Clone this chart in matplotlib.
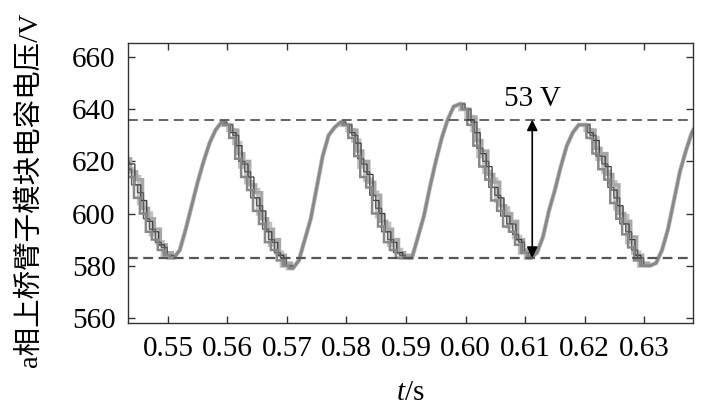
import numpy as np
import matplotlib
matplotlib.use("Agg")
import matplotlib.pyplot as plt

plt.rcParams['font.family'] = ['Liberation Serif', 'Noto Sans CJK SC', 'DejaVu Sans']
plt.rcParams['mathtext.fontset'] = 'custom'
plt.rcParams['mathtext.it'] = 'Liberation Serif:italic'
plt.rcParams['mathtext.rm'] = 'Liberation Serif'
plt.rcParams['lines.scale_dashes'] = False

# ---- data ----
t = np.linspace(0.543, 0.639, 97)

module_a = [620, 619, 611, 605, 597, 593, 588, 584, 583,
            586, 594, 603, 612, 620, 627, 632, 635,
            634, 631, 626, 619, 614, 606, 601, 593, 589, 584, 580, 579,
            582, 590, 598, 610, 622, 630, 633, 635,
            634, 631, 627, 619, 615, 605, 600, 593, 589, 585, 583, 583,
            591, 599, 610, 620, 629, 636, 641, 642,
            640, 636, 631, 623, 618, 610, 606, 599, 596, 590, 585, 583,
            585, 591, 601, 609, 618, 626, 631, 634,
            634, 631, 628, 622, 618, 609, 603, 596, 590, 584, 580, 580,
            581, 586, 594, 605, 616, 624, 631, 635]

module_b = [615, 614, 606, 600, 593, 590, 586, 584, 583,
            586, 594, 603, 612, 620, 627, 632, 635,
            634, 629, 621, 614, 609, 601, 596, 589, 586, 582, 580, 579,
            582, 590, 598, 610, 622, 630, 633, 635,
            634, 629, 622, 614, 610, 600, 595, 589, 586, 583, 583, 583,
            591, 599, 610, 620, 629, 636, 641, 642,
            640, 634, 626, 618, 613, 605, 601, 595, 593, 588, 585, 583,
            585, 591, 601, 609, 618, 626, 631, 634,
            634, 629, 623, 617, 613, 604, 598, 592, 587, 582, 580, 580,
            581, 586, 594, 605, 616, 624, 631, 635]

module_c = [621, 616, 613, 602, 598, 594, 588, 585, 583,
            586, 594, 603, 612, 620, 627, 632, 635,
            634, 632, 623, 620, 611, 608, 598, 594, 590, 584, 581, 579,
            582, 590, 598, 610, 622, 630, 633, 635,
            634, 632, 624, 620, 612, 607, 597, 594, 590, 585, 584, 583,
            591, 599, 610, 620, 629, 636, 641, 642,
            640, 637, 628, 624, 615, 612, 603, 600, 597, 590, 586, 583,
            585, 591, 601, 609, 618, 626, 631, 634,
            634, 632, 625, 623, 615, 611, 600, 597, 591, 584, 581, 580,
            581, 586, 594, 605, 616, 624, 631, 635]

module_d = [617, 611, 608, 598, 594, 589, 587, 584, 583,
            586, 594, 603, 612, 620, 627, 632, 635,
            634, 630, 620, 616, 606, 603, 594, 590, 585, 583, 580, 579,
            582, 590, 598, 610, 622, 630, 633, 635,
            634, 630, 621, 616, 607, 602, 593, 590, 585, 584, 583, 583,
            591, 599, 610, 620, 629, 636, 641, 642,
            640, 635, 625, 620, 610, 607, 599, 596, 592, 589, 585, 583,
            585, 591, 601, 609, 618, 626, 631, 634,
            634, 630, 622, 619, 610, 606, 596, 593, 586, 583, 580, 580,
            581, 586, 594, 605, 616, 624, 631, 635]

module_e = [619, 617, 614, 604, 600, 592, 589, 584, 583,
            586, 594, 603, 612, 620, 627, 632, 635,
            634, 632, 627, 618, 612, 609, 600, 596, 588, 585, 580, 579,
            582, 590, 598, 610, 622, 630, 633, 635,
            634, 632, 628, 618, 613, 608, 599, 596, 588, 586, 583, 583,
            591, 599, 610, 620, 629, 636, 641, 642,
            640, 637, 632, 622, 616, 613, 605, 602, 595, 591, 585, 583,
            585, 591, 601, 609, 618, 626, 631, 634,
            634, 632, 629, 621, 616, 612, 602, 599, 589, 585, 580, 580,
            581, 586, 594, 605, 616, 624, 631, 635]

upper_level = 636
lower_level = 583
arrow_time = 0.6112
ripple_label = "53 V"

x_ticks = [0.55, 0.56, 0.57, 0.58, 0.59, 0.60, 0.61, 0.62, 0.63]
x_tick_labels = ["0.55", "0.56", "0.57", "0.58", "0.59", "0.60", "0.61", "0.62", "0.63"]
y_ticks = [560, 580, 600, 620, 640, 660]


def stair(tt, vv, frac):
    xs = [tt[0]]
    ys = [vv[0]]
    for i in range(len(tt) - 1):
        if vv[i + 1] < vv[i]:
            tm = tt[i] + frac * (tt[i + 1] - tt[i])
            xs += [tm, tm, tt[i + 1]]
            ys += [vv[i], vv[i + 1], vv[i + 1]]
        else:
            xs.append(tt[i + 1])
            ys.append(vv[i + 1])
    return xs, ys


W, H = 709, 413
FS = 21
fig = plt.figure(figsize=(W / 100, H / 100), dpi=100)
ax = fig.add_axes([128 / W, 1 - 323 / H, (693 - 128) / W, (323 - 43) / H])

styles = [
    (module_e, 0.15, '#c2c2c2', 3.2),
    (module_c, 0.75, '#a8a8a8', 2.4),
    (module_a, 0.45, '#3a3a3a', 0.9),
    (module_d, 0.90, '#5c5c5c', 1.0),
    (module_b, 0.30, '#888888', 1.8),
]
for vals, frac, col, lw in styles:
    xs, ys = stair(t, vals, frac)
    ax.plot(xs, ys, color=col, lw=lw, solid_joinstyle='miter')

ax.axhline(upper_level, color='#3a3a3a', lw=1.1, dashes=(7, 4))
ax.axhline(lower_level, color='#555555', lw=1.6, dashes=(7, 4))

ax.annotate('', xy=(arrow_time, upper_level), xytext=(arrow_time, lower_level),
            arrowprops=dict(arrowstyle='<|-|>', color='black', lw=1.2,
                            mutation_scale=16, shrinkA=0, shrinkB=0))
ax.text(arrow_time, 644.0, ripple_label, ha='center', va='center', fontsize=FS)

ax.set_xlim(0.5433, 0.6382)
ax.set_ylim(558, 665.4)
ax.set_xticks(x_ticks)
ax.set_xticklabels(x_tick_labels)
ax.set_yticks(y_ticks)
ax.tick_params(direction='in', top=True, right=True, length=5, width=1,
               labelsize=FS, color='#333333')
ax.tick_params(axis='x', pad=9)
ax.tick_params(axis='y', pad=9)
for s in ax.spines.values():
    s.set_color('#333333')
    s.set_linewidth(1.0)

fig.text(30 / W, 1 - 190 / H, 'a相上桥臂子模块电容电压/V', rotation=90,
         ha='center', va='center', fontsize=20.5)
fig.text(410 / W, 1 - 393 / H, r'$\mathit{t}$/s', ha='center', va='center', fontsize=FS)

fig.savefig('out.png', dpi=100)
